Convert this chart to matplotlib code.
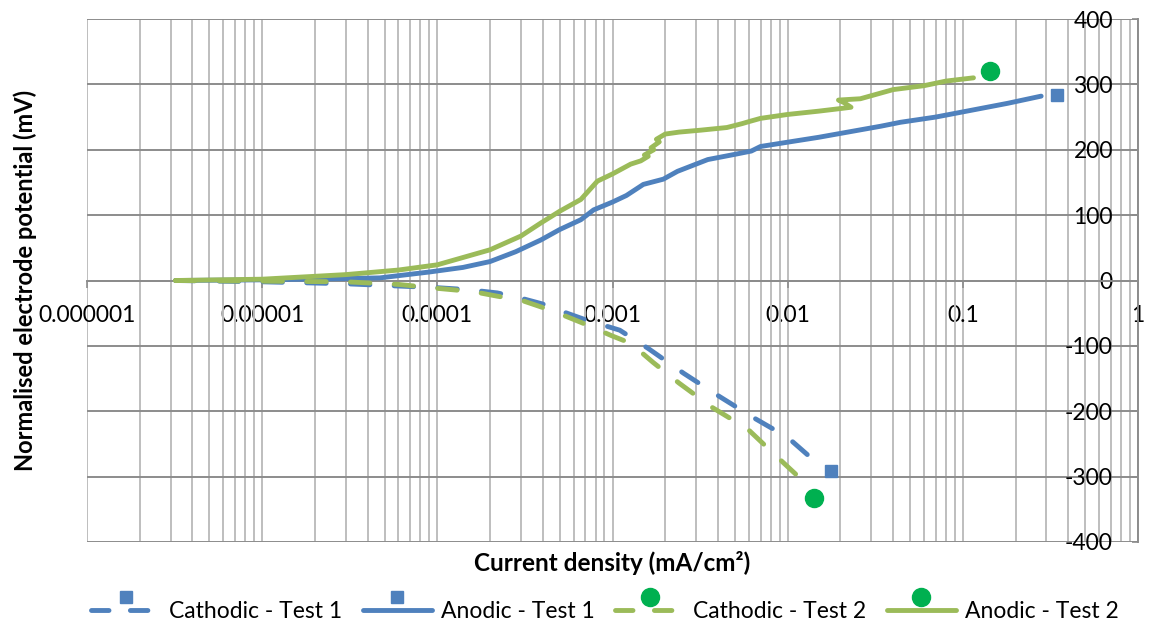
import numpy as np
import matplotlib
matplotlib.use("Agg")
import matplotlib.pyplot as plt
from matplotlib.lines import Line2D
from matplotlib.ticker import FixedLocator, FixedFormatter, LogLocator, NullFormatter
from matplotlib.legend_handler import HandlerLine2DCompound

plt.rcParams['font.family'] = ['Lato', 'DejaVu Sans']
plt.rcParams['axes.unicode_minus'] = False

# Cathodic - Test 1 (current density mA/cm2, potential mV)
cath1_x = [3.2e-6, 1e-5, 3e-5, 1e-4, 1.5e-4, 2.2e-4, 3e-4, 4e-4, 5.5e-4, 7e-4,
           1.1e-3, 1.6e-3, 2.55e-3, 4e-3, 6.4e-3, 1e-2, 1.41e-2, 1.56e-2]
cath1_y = [0, -2, -5, -11, -14, -19, -27, -36, -50, -60,
           -76, -104, -142, -176, -210, -240, -275, -283]
cath1_end = (0.0176, -291)

# Anodic - Test 1
anod1_x = [3.2e-6, 1e-5, 3e-5, 4.7e-5, 9e-5, 1.4e-4, 2e-4, 2.8e-4, 3.9e-4, 5e-4,
           6.6e-4, 7.8e-4, 1.0e-3, 1.2e-3, 1.5e-3, 1.95e-3, 2.35e-3, 3.5e-3, 5e-3,
           6.2e-3, 7.0e-3, 1.08e-2, 1.5e-2, 2.1e-2, 3.4e-2, 4.4e-2, 7e-2, 0.105,
           0.18, 0.28]
anod1_y = [0, 1, 3, 4, 13, 20, 29, 44, 62, 78,
           93, 108, 120, 130, 147, 155, 167, 185, 193,
           198, 205, 213, 219, 226, 236, 242, 250, 259,
           271, 282]
anod1_end = (0.344, 284)

# Cathodic - Test 2
cath2_x = [3.2e-6, 1e-5, 3e-5, 6e-5, 1e-4, 1.6e-4, 2.2e-4, 3e-4, 4.5e-4, 6.6e-4,
           1.0e-3, 1.27e-3, 1.7e-3, 2.4e-3, 3.7e-3, 5.9e-3, 8.8e-3, 1.13e-2,
           1.23e-2, 1.34e-2]
cath2_y = [0, -1, -2, -6, -12, -17, -24, -30, -46, -64,
           -85, -96, -125, -157, -194, -227, -271, -298,
           -306, -317]
cath2_end = (0.0141, -332)

# Anodic - Test 2
anod2_x = [3.2e-6, 1e-5, 3e-5, 6e-5, 1e-4, 2e-4, 3e-4, 3.9e-4, 5e-4, 6.6e-4,
           8.2e-4, 1.0e-3, 1.27e-3, 1.45e-3, 1.6e-3, 1.52e-3, 1.72e-3, 1.66e-3,
           1.85e-3, 1.78e-3, 2.0e-3, 2.4e-3, 3.2e-3, 4.5e-3, 5.5e-3, 6.0e-3, 7e-3,
           1e-2, 1.5e-2, 2.0e-2, 2.3e-2, 2.1e-2, 1.95e-2, 2.6e-2, 4e-2, 6e-2,
           8e-2, 0.115]
anod2_y = [0, 2, 9, 16, 24, 47, 68, 88, 106, 124,
           152, 163, 178, 183, 190, 192, 200, 203,
           212, 216, 224, 227, 230, 234, 240, 243, 248,
           254, 259, 263, 265, 272, 276, 278, 292, 298,
           305, 310]
anod2_end = (0.143, 321)

x_ticks = [1e-6, 1e-5, 1e-4, 1e-3, 1e-2, 1e-1, 1]
x_labels = ['0.000001', '0.00001', '0.0001', '0.001', '0.01', '0.1', '1']
y_ticks = [-400, -300, -200, -100, 0, 100, 200, 300, 400]

blue = '#4F81BD'
green = '#9BBB59'
green_mk = '#00B050'
lw = 3.5
dash = (4.0, 5.0)

fig = plt.figure(figsize=(11.56, 6.33), dpi=100)
ax = fig.add_axes([87 / 1156, 1 - 542 / 633, 1051 / 1156, 523 / 633])
ax.set_xscale('log')
ax.set_xlim(1e-6, 1)
ax.set_ylim(-400, 400)

# series
ax.plot(cath1_x, cath1_y, color=blue, lw=lw, dashes=dash, dash_capstyle='round',
        zorder=3)
ax.plot(*cath1_end, marker='s', ms=8.6, color=blue, ls='none', zorder=4)
ax.plot(anod1_x, anod1_y, color=blue, lw=lw, solid_capstyle='round',
        solid_joinstyle='round', zorder=3)
ax.plot(*anod1_end, marker='s', ms=8.6, color=blue, ls='none', zorder=4)
ax.plot(cath2_x, cath2_y, color=green, lw=lw, dashes=dash, dash_capstyle='round',
        zorder=3)
ax.plot(*cath2_end, marker='o', ms=13, color=green_mk, ls='none', zorder=4)
ax.plot(anod2_x, anod2_y, color=green, lw=lw, solid_capstyle='round',
        solid_joinstyle='round', zorder=3)
ax.plot(*anod2_end, marker='o', ms=13, color=green_mk, ls='none', zorder=4)

# axes / grid
ax.xaxis.set_major_locator(FixedLocator(x_ticks))
ax.xaxis.set_major_formatter(FixedFormatter(x_labels))
ax.xaxis.set_minor_locator(LogLocator(base=10, subs=np.arange(2, 10)))
ax.xaxis.set_minor_formatter(NullFormatter())
ax.set_yticks(y_ticks)

ax.grid(True, axis='x', which='both', color='#BEBEBE', lw=1.4)
ax.grid(True, axis='y', which='major', color='#8C8C8C', lw=1.4)
ax.set_axisbelow(True)
for gl in ax.get_xgridlines() + ax.get_ygridlines():
    gl.set_clip_on(False)

for s in ['top', 'right']:
    ax.spines[s].set_visible(False)
ax.spines['bottom'].set_position(('data', 0))
ax.spines['bottom'].set_color('#8C8C8C')
ax.spines['bottom'].set_linewidth(1.4)
ax.spines['left'].set_position(('axes', 1.0))
ax.spines['left'].set_color('#8C8C8C')
ax.spines['left'].set_linewidth(1.4)

ax.tick_params(axis='x', which='major', direction='out', length=5, width=1.2,
               color='#8C8C8C', pad=13, labelsize=16.5)
ax.tick_params(axis='x', which='minor', length=0)
ax.tick_params(axis='y', which='major', direction='out', length=4, width=1.2,
               color='#8C8C8C', pad=14, labelsize=16.5)

fig.text(25 / 1156, 1 - 280 / 633, 'Normalised electrode potential (mV)',
         rotation=90, ha='center', va='center', fontsize=17, fontweight='bold')
fig.text(612 / 1156, 1 - 563 / 633, 'Current density (mA/cm²)',
         ha='center', va='center', fontsize=17.5, fontweight='bold')


class RaisedMarker(HandlerLine2DCompound):
    def create_artists(self, legend, orig_handle, xdescent, ydescent, width,
                       height, fontsize, trans):
        arts = super().create_artists(legend, orig_handle, xdescent, ydescent,
                                      width, height, fontsize, trans)
        line, marker = arts
        marker.set_ydata(np.asarray(marker.get_ydata()) + height * 0.85)
        return [line, marker]


handles = [
    Line2D([], [], color=blue, lw=lw, dashes=(3.6, 4.4), dash_capstyle='round',
           marker='s', ms=8.6, mfc=blue, mec=blue),
    Line2D([], [], color=blue, lw=lw, solid_capstyle='round',
           marker='s', ms=8.6, mfc=blue, mec=blue),
    Line2D([], [], color=green, lw=lw, dashes=(3.6, 4.4), dash_capstyle='round',
           marker='o', ms=13, mfc=green_mk, mec=green_mk),
    Line2D([], [], color=green, lw=lw, solid_capstyle='round',
           marker='o', ms=13, mfc=green_mk, mec=green_mk),
]
labels = ['Cathodic - Test 1', 'Anodic - Test 1', 'Cathodic - Test 2', 'Anodic - Test 2']
fig.legend(handles, labels, loc='center', bbox_to_anchor=(605 / 1156, 1 - 612 / 633),
           ncol=4, frameon=False, fontsize=16.5, handlelength=3.0, handletextpad=0.4,
           columnspacing=0.9, handler_map={Line2D: RaisedMarker()})

fig.savefig('out.png', dpi=100)
